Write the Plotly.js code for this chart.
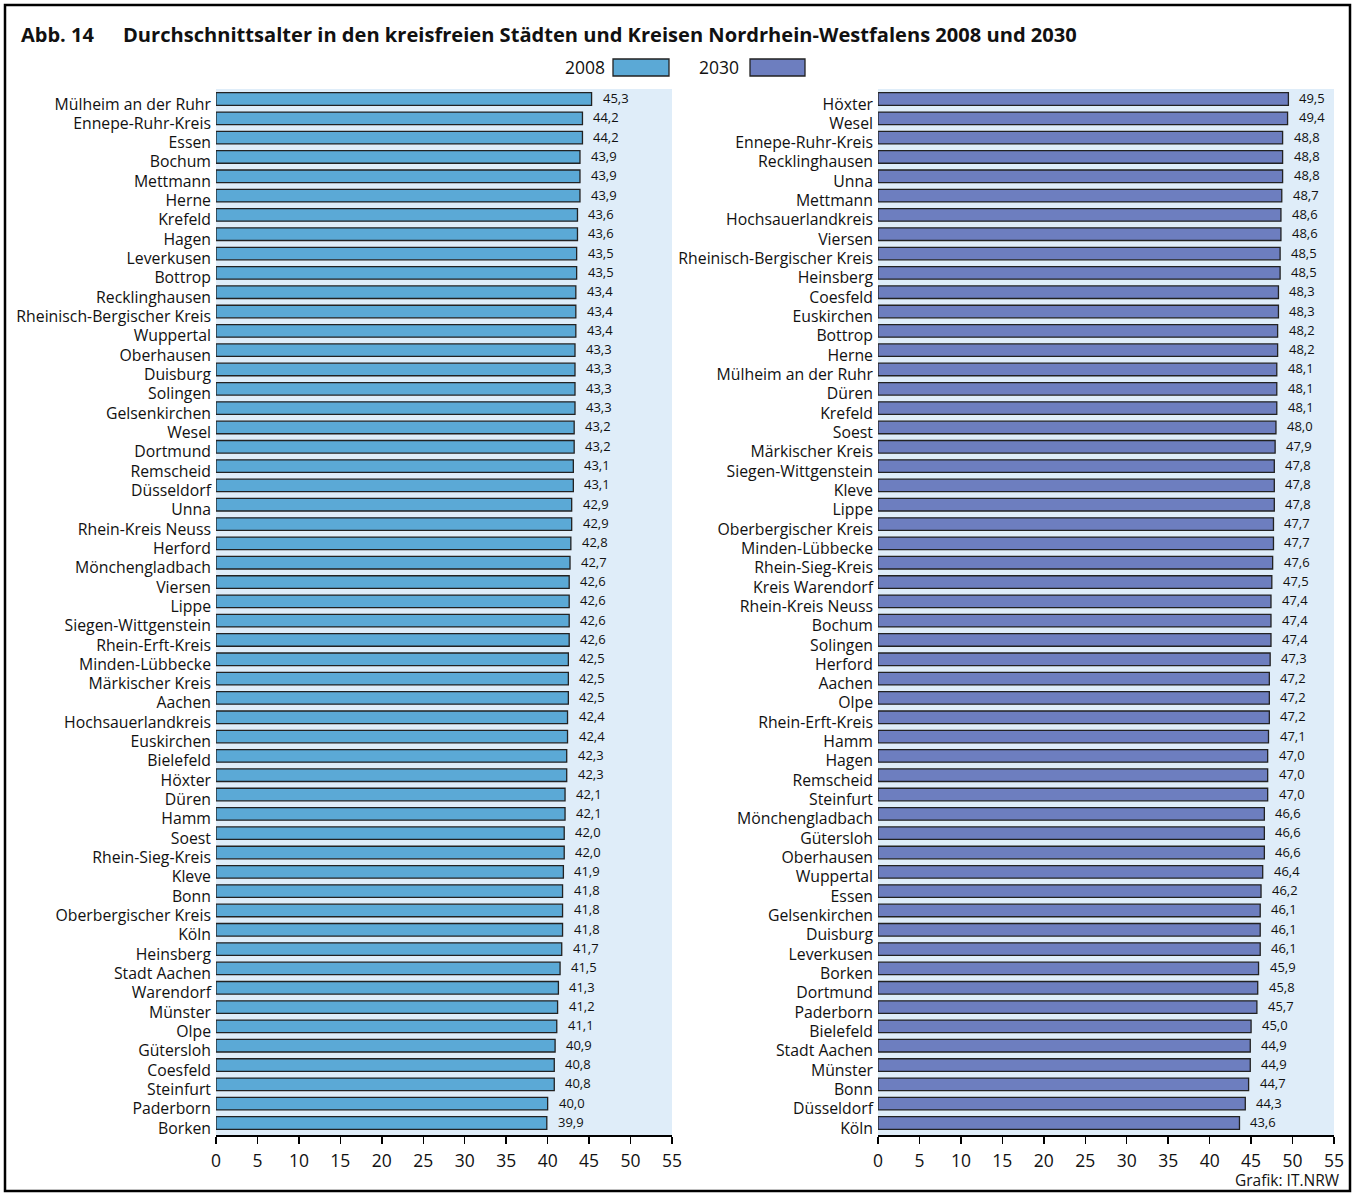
<!DOCTYPE html>
<html><head><meta charset="utf-8">
<script src="https://cdn.plot.ly/plotly-3.0.1.min.js"></script>
<style>body{margin:0;background:#fff}#chart{width:1355px;height:1193px}</style>
</head><body><div id="chart"></div>
<script>
const cities2008 = ["Mülheim an der Ruhr","Ennepe-Ruhr-Kreis","Essen","Bochum","Mettmann","Herne","Krefeld","Hagen","Leverkusen","Bottrop","Recklinghausen","Rheinisch-Bergischer Kreis","Wuppertal","Oberhausen","Duisburg","Solingen","Gelsenkirchen","Wesel","Dortmund","Remscheid","Düsseldorf","Unna","Rhein-Kreis Neuss","Herford","Mönchengladbach","Viersen","Lippe","Siegen-Wittgenstein","Rhein-Erft-Kreis","Minden-Lübbecke","Märkischer Kreis","Aachen","Hochsauerlandkreis","Euskirchen","Bielefeld","Höxter","Düren","Hamm","Soest","Rhein-Sieg-Kreis","Kleve","Bonn","Oberbergischer Kreis","Köln","Heinsberg","Stadt Aachen","Warendorf","Münster","Olpe","Gütersloh","Coesfeld","Steinfurt","Paderborn","Borken"];
const values2008 = [45.3,44.2,44.2,43.9,43.9,43.9,43.6,43.6,43.5,43.5,43.4,43.4,43.4,43.3,43.3,43.3,43.3,43.2,43.2,43.1,43.1,42.9,42.9,42.8,42.7,42.6,42.6,42.6,42.6,42.5,42.5,42.5,42.4,42.4,42.3,42.3,42.1,42.1,42.0,42.0,41.9,41.8,41.8,41.8,41.7,41.5,41.3,41.2,41.1,40.9,40.8,40.8,40.0,39.9];
const cities2030 = ["Höxter","Wesel","Ennepe-Ruhr-Kreis","Recklinghausen","Unna","Mettmann","Hochsauerlandkreis","Viersen","Rheinisch-Bergischer Kreis","Heinsberg","Coesfeld","Euskirchen","Bottrop","Herne","Mülheim an der Ruhr","Düren","Krefeld","Soest","Märkischer Kreis","Siegen-Wittgenstein","Kleve","Lippe","Oberbergischer Kreis","Minden-Lübbecke","Rhein-Sieg-Kreis","Kreis Warendorf","Rhein-Kreis Neuss","Bochum","Solingen","Herford","Aachen","Olpe","Rhein-Erft-Kreis","Hamm","Hagen","Remscheid","Steinfurt","Mönchengladbach","Gütersloh","Oberhausen","Wuppertal","Essen","Gelsenkirchen","Duisburg","Leverkusen","Borken","Dortmund","Paderborn","Bielefeld","Stadt Aachen","Münster","Bonn","Düsseldorf","Köln"];
const values2030 = [49.5,49.4,48.8,48.8,48.8,48.7,48.6,48.6,48.5,48.5,48.3,48.3,48.2,48.2,48.1,48.1,48.1,48.0,47.9,47.8,47.8,47.8,47.7,47.7,47.6,47.5,47.4,47.4,47.4,47.3,47.2,47.2,47.2,47.1,47.0,47.0,47.0,46.6,46.6,46.6,46.4,46.2,46.1,46.1,46.1,45.9,45.8,45.7,45.0,44.9,44.9,44.7,44.3,43.6];
const xTicks = [0,5,10,15,20,25,30,35,40,45,50,55];
const seriesNames = ["2008","2030"];
const titleNumber = "Abb. 14";
const titleText = "Durchschnittsalter in den kreisfreien Städten und Kreisen Nordrhein-Westfalens 2008 und 2030";
const sourceText = "Grafik: IT.NRW";

const W = 1355, H = 1193;
const px = x => x / W;
const py = y => 1 - y / H;
const FONT = "Open Sans, Noto Sans, sans-serif";
const TXT = "#111";
const COL1 = "#5ba9d6", COL2 = "#6d7ebf";
const fmt = v => v.toFixed(1).replace(".", ",");

const traces = [
  {type:"bar", orientation:"h", x:values2008, y:cities2008, xaxis:"x", yaxis:"y",
   marker:{color:COL1, line:{color:"#222", width:1.3}}, name:seriesNames[0], hoverinfo:"x+y"},
  {type:"bar", orientation:"h", x:values2030, y:cities2030, xaxis:"x2", yaxis:"y2",
   marker:{color:COL2, line:{color:"#222", width:1.3}}, name:seriesNames[1], hoverinfo:"x+y"}
];

const xCommon = {range:[0,55], tickvals:xTicks, ticktext:xTicks.map(String), ticks:"outside", ticklen:7, tickwidth:1.5, tickcolor:"#000",
  showline:true, linecolor:"#000", linewidth:1.5, showgrid:false, zeroline:false, fixedrange:true,
  tickfont:{family:FONT, size:17.5, color:TXT}, ticklabelstandoff:2};
const yCommon = {type:"category", autorange:"reversed", showline:false, ticks:"", showgrid:false, zeroline:false,
  tickfont:{family:FONT, size:15.8, color:TXT}, ticklabelstandoff:4, ticklabelshift:-5};

const annotations = [];
values2008.forEach((v,i) => annotations.push({xref:"x", yref:"y", x:v, y:cities2008[i], text:fmt(v), showarrow:false,
  xanchor:"left", xshift:9, yshift:1, font:{family:FONT, size:13, color:TXT}}));
values2030.forEach((v,i) => annotations.push({xref:"x2", yref:"y2", x:v, y:cities2030[i], text:fmt(v), showarrow:false,
  xanchor:"left", xshift:9, yshift:1, font:{family:FONT, size:13, color:TXT}}));

annotations.push({xref:"paper", yref:"paper", x:px(19), y:py(35), text:"<b>"+titleNumber+"</b>", showarrow:false, xanchor:"left", yanchor:"middle", font:{family:FONT, size:20, color:TXT}});
annotations.push({xref:"paper", yref:"paper", x:px(121), y:py(35), text:"<b>"+titleText+"</b>", showarrow:false, xanchor:"left", yanchor:"middle", font:{family:FONT, size:20.1, color:TXT}});
annotations.push({xref:"paper", yref:"paper", x:px(607), y:py(67), text:seriesNames[0], showarrow:false, xanchor:"right", yanchor:"middle", font:{family:FONT, size:17.5, color:TXT}});
annotations.push({xref:"paper", yref:"paper", x:px(741), y:py(67), text:seriesNames[1], showarrow:false, xanchor:"right", yanchor:"middle", font:{family:FONT, size:17.5, color:TXT}});
annotations.push({xref:"paper", yref:"paper", x:px(1342), y:py(1180), text:sourceText, showarrow:false, xanchor:"right", yanchor:"middle", font:{family:FONT, size:15.5, color:TXT}});

const shapes = [
  {type:"rect", xref:"paper", yref:"paper", x0:px(5), x1:px(1350), y0:py(5), y1:py(1191), line:{color:"#000", width:2.5}, fillcolor:"rgba(0,0,0,0)"},
  {type:"rect", xref:"paper", yref:"paper", x0:px(613), x1:px(669), y0:py(59), y1:py(76), line:{color:"#222", width:1.3}, fillcolor:COL1},
  {type:"rect", xref:"paper", yref:"paper", x0:px(750), x1:px(805), y0:py(59), y1:py(76), line:{color:"#222", width:1.3}, fillcolor:COL2}
];

const layout = {
  width:W, height:H, margin:{l:0,r:0,t:0,b:0}, paper_bgcolor:"#fff", plot_bgcolor:"#dfedf9",
  showlegend:false, bargap:0.35, font:{family:FONT, color:TXT},
  xaxis:Object.assign({}, xCommon, {domain:[px(216), px(672)], anchor:"y"}),
  xaxis2:Object.assign({}, xCommon, {domain:[px(878), px(1334)], anchor:"y2"}),
  yaxis:Object.assign({}, yCommon, {domain:[py(1135), py(89)], anchor:"x"}),
  yaxis2:Object.assign({}, yCommon, {domain:[py(1135), py(89)], anchor:"x2"}),
  annotations, shapes
};
Plotly.newPlot("chart", traces, layout, {displayModeBar:false, staticPlot:true});
</script></body></html>
